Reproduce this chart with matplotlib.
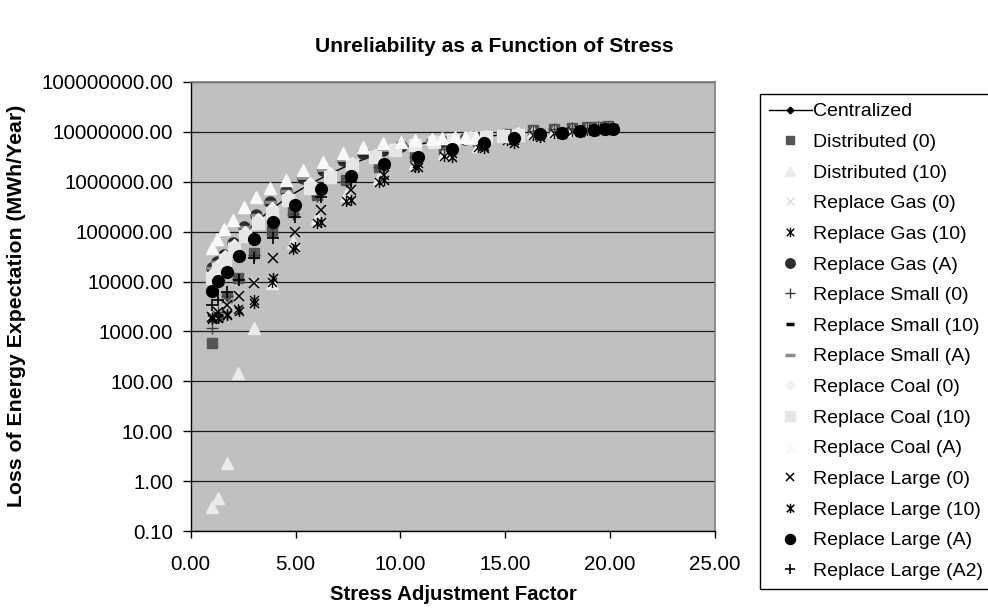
import matplotlib
matplotlib.use("Agg")
import matplotlib.pyplot as plt
from matplotlib.path import Path
from matplotlib.ticker import FixedLocator, FormatStrFormatter, NullLocator

plt.rcParams['font.family'] = ['Liberation Sans', 'DejaVu Sans']

# stress factor grids (each group of scenarios has its own)
x_cen = [1.0, 1.28, 1.62, 2.05, 2.6, 3.22, 3.86, 4.65, 5.69, 6.64,
         7.68, 8.79, 9.74, 10.7, 11.6, 12.5, 13.3, 14.1, 14.9, 15.6]
x_dist = [1.0, 1.3, 1.75, 2.27, 3.03, 3.9, 4.86, 6.0, 7.4, 9.0,
          10.7, 12.1, 13.7, 15.1, 16.3, 17.3, 18.2, 18.9, 19.4, 19.9]
x_a = [1.0, 1.26, 1.6, 2.02, 2.53, 3.1, 3.79, 4.54, 5.37, 6.32,
       7.25, 8.23, 9.16, 10.05, 10.7, 11.5, 12.0, 12.6, 13.1, 13.6]
x_large = [1.0, 1.3, 1.75, 2.29, 3.03, 3.92, 4.97, 6.23, 7.64, 9.22,
           10.85, 12.45, 14.0, 15.43, 16.66, 17.69, 18.56, 19.23, 19.76, 20.15]

# loss of energy expectation (MWh/year)
centralized = [13000, 20000, 31000, 52000, 95000, 170000, 280000, 500000, 900000, 1.45e6,
               2.3e6, 3.4e6, 4.5e6, 5.5e6, 6.4e6, 7.1e6, 7.7e6, 8.2e6, 8.7e6, 9.2e6]
distributed_0 = [590, 2000, 5000, 11600, 36700, 105000, 244000, 540000, 1.08e6, 2.0e6,
                 3.2e6, 4.6e6, 6.6e6, 9.0e6, 1.07e7, 1.14e7, 1.2e7, 1.25e7, 1.28e7, 1.3e7]
distributed_10 = [0.31, 0.45, 2.3, 145, 1160, 9300, 62000, 186000, 540000, 1.17e6,
                  2.4e6, 3.7e6, 5.3e6, 8.2e6, 9.8e6, 1.05e7, 1.1e7, 1.15e7, 1.18e7, 1.2e7]
gas_0 = [2200, 2800, 3800, 5600, 10500, 31000, 105000, 280000, 700000, 1.4e6,
         2.45e6, 3.75e6, 5.35e6, 7.0e6, 8.7e6, 9.45e6, 1.025e7, 1.085e7, 1.12e7, 1.14e7]
gas_10 = [1750, 1900, 2200, 2800, 4200, 10000, 45000, 150000, 420000, 1.0e6,
          2.0e6, 3.3e6, 5.0e6, 7.0e6, 8.6e6, 9.5e6, 1.02e7, 1.07e7, 1.1e7, 1.12e7]
gas_a = [18400, 25000, 34000, 60000, 122000, 214000, 398000, 660000, 1.17e6, 1.7e6,
         2.7e6, 3.7e6, 4.3e6, 5.2e6, 5.8e6, 6.3e6, 6.7e6, 7.0e6, 7.2e6, 7.4e6]
small_0 = [1200, 2400, 5200, 11000, 34000, 98000, 230000, 520000, 1.05e6, 1.95e6,
           3.1e6, 4.5e6, 6.4e6, 8.8e6, 1.05e7, 1.12e7, 1.18e7, 1.22e7, 1.25e7, 1.27e7]
small_10 = [17500, 24000, 32500, 57000, 116000, 204000, 380000, 630000, 1.12e6, 1.62e6,
            2.6e6, 3.55e6, 4.1e6, 5.0e6, 5.55e6, 6.0e6, 6.4e6, 6.7e6, 6.9e6, 7.1e6]
small_a = [18400, 25000, 34000, 60000, 122000, 214000, 398000, 660000, 1.17e6, 1.7e6,
           2.7e6, 3.7e6, 4.3e6, 5.2e6, 5.8e6, 6.3e6, 6.7e6, 7.0e6, 7.2e6, 7.4e6]
coal_0 = [14000, 21000, 32000, 55000, 100000, 180000, 300000, 520000, 950000, 1.5e6,
          2.4e6, 3.5e6, 4.6e6, 5.6e6, 6.5e6, 7.2e6, 7.8e6, 8.3e6, 8.8e6, 9.3e6]
coal_10 = [12000, 18000, 27000, 45000, 82000, 150000, 232000, 430000, 740000, 1.26e6,
           2.15e6, 3.17e6, 4.3e6, 5.4e6, 6.3e6, 7.0e6, 7.6e6, 8.0e6, 8.4e6, 8.8e6]
coal_a = [46000, 70000, 111000, 170000, 307000, 486000, 738000, 1.07e6, 1.7e6, 2.5e6,
          3.7e6, 4.9e6, 5.9e6, 6.4e6, 6.9e6, 7.3e6, 7.6e6, 7.8e6, 7.9e6, 8.0e6]
large_0 = [1960, 2500, 3400, 5100, 9500, 29000, 100000, 270000, 680000, 1.36e6,
           2.4e6, 3.7e6, 5.3e6, 6.9e6, 8.6e6, 9.4e6, 1.02e7, 1.08e7, 1.12e7, 1.14e7]
large_10 = [1860, 1860, 2100, 2600, 3700, 11600, 50000, 158000, 430000, 1.08e6,
            2.0e6, 3.2e6, 4.7e6, 5.9e6, 7.9e6, 9.0e6, 9.9e6, 1.05e7, 1.1e7, 1.12e7]
large_a = [6500, 10200, 15700, 33000, 72000, 158000, 347000, 705000, 1.32e6, 2.22e6,
           3.2e6, 4.5e6, 6.0e6, 7.4e6, 9.0e6, 9.6e6, 1.04e7, 1.09e7, 1.13e7, 1.14e7]
large_a2 = [3400, 4300, 6300, 10700, 29000, 73000, 200000, 485000, 1.0e6, 1.9e6,
            3.0e6, 4.3e6, 5.8e6, 7.2e6, 8.8e6, 9.5e6, 1.03e7, 1.08e7, 1.12e7, 1.13e7]

x_ticks = [0, 5, 10, 15, 20, 25]
y_ticks = [0.1, 1, 10, 100, 1e3, 1e4, 1e5, 1e6, 1e7, 1e8]

# x with a vertical bar through it
star = Path([(-1, -1), (1, 1), (-1, 1), (1, -1), (0, -1.25), (0, 1.25)],
            [Path.MOVETO, Path.LINETO, Path.MOVETO, Path.LINETO, Path.MOVETO, Path.LINETO])

fig = plt.figure(figsize=(9.88, 6.11), dpi=100)
ax = fig.add_axes([0.193, 0.1309, 0.5307, 0.7349])
ax.set_facecolor('#C0C0C0')

for v in y_ticks:
    ax.axhline(v, color='#1a1a1a', linewidth=0.9, zorder=0.5)

pts = dict(linestyle='none')
ax.plot(x_cen, centralized, color='black', linewidth=1, marker='D', markersize=4,
        label='Centralized', zorder=2)
ax.plot(x_dist, distributed_0, marker='s', markersize=7, color='#555555',
        label='Distributed (0)', zorder=3, **pts)
ax.plot(x_dist, distributed_10, marker='^', markersize=8.5, color='#EBEBEB',
        label='Distributed (10)', zorder=3, **pts)
ax.plot(x_large, gas_0, marker='x', markersize=7, markeredgewidth=1, color='#DDDDDD',
        label='Replace Gas (0)', zorder=3, **pts)
ax.plot(x_dist, gas_10, marker=star, markersize=8, markeredgewidth=1, color='black',
        markerfacecolor='none', label='Replace Gas (10)', zorder=3, **pts)
ax.plot(x_a, gas_a, marker='o', markersize=8, color='#2E2E2E',
        label='Replace Gas (A)', zorder=3, **pts)
ax.plot(x_dist, small_0, marker='+', markersize=8, markeredgewidth=1, color='#404040',
        label='Replace Small (0)', zorder=3, **pts)
ax.plot(x_a, small_10, marker='_', markersize=7, markeredgewidth=2.5, color='black',
        label='Replace Small (10)', zorder=3, **pts)
ax.plot(x_a, small_a, marker='_', markersize=9, markeredgewidth=2.5, color='#8C8C8C',
        label='Replace Small (A)', zorder=3, **pts)
ax.plot(x_cen, coal_0, marker='D', markersize=6.5, color='#F2F2F2',
        label='Replace Coal (0)', zorder=3, **pts)
ax.plot(x_cen, coal_10, marker='s', markersize=8, color='#E6E6E6',
        label='Replace Coal (10)', zorder=3, **pts)
ax.plot(x_a, coal_a, marker='^', markersize=9, color='#F8F8F8',
        label='Replace Coal (A)', zorder=3, **pts)
ax.plot(x_large, large_0, marker='x', markersize=7.5, markeredgewidth=1.1, color='black',
        label='Replace Large (0)', zorder=3, **pts)
ax.plot(x_large, large_10, marker=star, markersize=8, markeredgewidth=1.1, color='black',
        markerfacecolor='none', label='Replace Large (10)', zorder=3, **pts)
ax.plot(x_large, large_a, marker='o', markersize=8.5, color='black',
        label='Replace Large (A)', zorder=3, **pts)
ax.plot(x_large, large_a2, marker='+', markersize=8.5, markeredgewidth=1.2, color='black',
        label='Replace Large (A2)', zorder=3, **pts)

ax.set_yscale('log')
ax.set_ylim(0.1, 1e8)
ax.set_xlim(0, 25)
ax.yaxis.set_major_locator(FixedLocator(y_ticks))
ax.yaxis.set_minor_locator(NullLocator())
ax.yaxis.set_major_formatter(FormatStrFormatter('%.2f'))
ax.xaxis.set_major_locator(FixedLocator(x_ticks))
ax.xaxis.set_major_formatter(FormatStrFormatter('%.2f'))
ax.tick_params(axis='y', direction='out', length=5.5, width=1, pad=7, labelsize=14.8)
ax.tick_params(axis='x', direction='out', length=5, width=1, pad=12, labelsize=14.8)

for s in ('top', 'right'):
    ax.spines[s].set_color('#808080')
    ax.spines[s].set_linewidth(1.2)
for s in ('left', 'bottom'):
    ax.spines[s].set_color('black')
    ax.spines[s].set_linewidth(1)

fig.text(494 / 988, 1 - 47 / 611, 'Unreliability as a Function of Stress',
         ha='center', va='center', fontsize=15.2, fontweight='bold')
fig.text(453 / 988, 1 - 594 / 611, 'Stress Adjustment Factor',
         ha='center', va='center', fontsize=14.7, fontweight='bold')
fig.text(17 / 988, 1 - 306 / 611, 'Loss of Energy Expectation (MWh/Year)',
         ha='center', va='center', rotation=90, fontsize=15.3, fontweight='bold')

leg = ax.legend(loc='upper left', bbox_to_anchor=(760 / 988, 1 - 94 / 611),
                bbox_transform=fig.transFigure, borderaxespad=0, fontsize=14,
                frameon=True, fancybox=False, edgecolor='black', framealpha=1,
                labelspacing=0.67, handlelength=2.2, handletextpad=0.1,
                borderpad=0.45, markerscale=0.85, numpoints=1)
leg.get_frame().set_linewidth(1)

fig.savefig('out.png', dpi=100, facecolor='white')
